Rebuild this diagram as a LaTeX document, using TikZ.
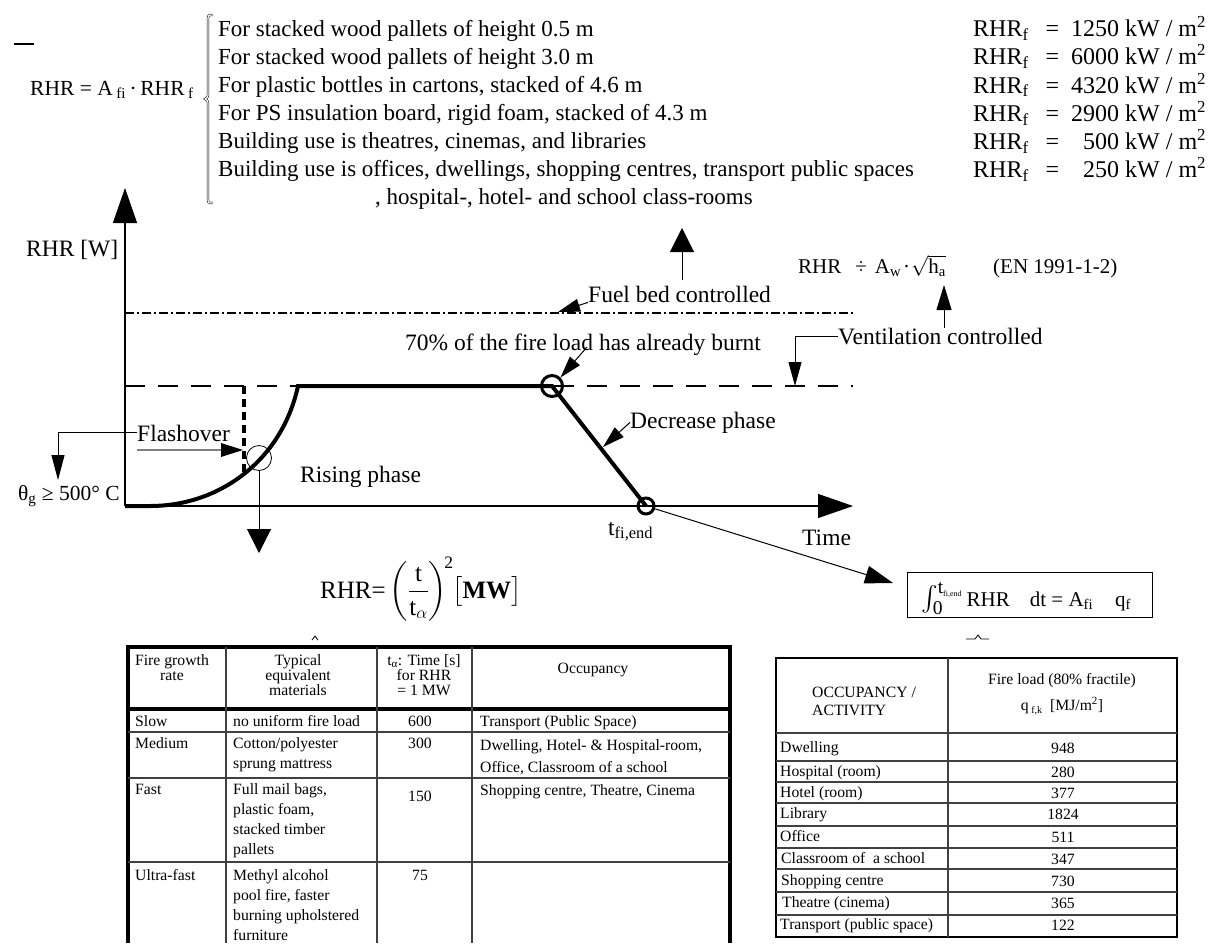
\documentclass[tikz,border=0pt]{standalone}
\usepackage{amsmath}
\usepackage{fontspec}
\setmainfont{Liberation Serif}
\usetikzlibrary{arrows.meta, positioning}

\newcommand{\lines}[2][l]{\begin{tabular}[t]{@{}#1@{}}#2\end{tabular}}

\tikzstyle{lbl} = [inner sep=0pt, anchor=base west, font=\fontsize{23.5}{28}\selectfont]
\tikzstyle{eqn} = [inner sep=0pt, anchor=base west, font=\fontsize{21}{25}\selectfont]
\tikzstyle{cell} = [inner sep=0pt, anchor=base west, font=\fontsize{15.7}{20}\selectfont]
\tikzstyle{numcell} = [inner sep=0pt, anchor=base, font=\fontsize{15.7}{20}\selectfont]
\tikzstyle{headcell} = [inner sep=0pt, anchor=base, font=\fontsize{15.7}{15}\selectfont]
\tikzstyle{arrow} = [line width=1pt, -{Triangle[length=24pt,width=24pt]}]
\tikzstyle{leader} = [line width=1pt, -{Triangle[length=22pt,width=13pt]}]
\tikzstyle{rhrcurve} = [line width=4pt]
\tikzstyle{ring} = [circle, draw, inner sep=0pt]
\tikzstyle{tabframe} = [line width=4pt]
\tikzstyle{tabline} = [line width=1.2pt, black!75]

\begin{document}
\begin{tikzpicture}[x=1pt, y=-1pt]
\useasboundingbox (0,0) rectangle (1209,943);

% heat release rate per floor area
\draw[line width=1.5pt] (14,44) -- (34,44);
\node (areaeq) [inner sep=0pt, anchor=base west, font=\fontsize{21.5}{24}\selectfont] at (30,95) {RHR = A\,\textsubscript{fi}\,·\,RHR\,\textsubscript{f}};
\draw[double, line width=0.5pt, double distance=1.2pt] (213,15) .. controls (208,15) .. (208,21) -- (208,93) .. controls (208,97) .. (205,99) .. controls (208,101) .. (208,105) -- (208,197) .. controls (208,203) .. (213,203);
\node (uselist) [lbl, font=\fontsize{23}{27.9}\selectfont] at (218,36.7) {\lines{For stacked wood pallets of height 0.5 m\\
For stacked wood pallets of height 3.0 m\\
For plastic bottles in cartons, stacked of 4.6 m\\
For PS insulation board, rigid foam, stacked of 4.3 m\\
Building use is theatres, cinemas, and libraries\\
Building use is offices, dwellings, shopping centres, transport public spaces\\
\hspace*{157pt}, hospital-, hotel- and school class-rooms}};
\node (rhrf) [lbl, font=\fontsize{24}{26.8}\selectfont] at (973,36.7) {\lines[l@{\hspace{17pt}}c@{\hspace{12pt}}r@{\hspace{6pt}}l]{RHR\textsubscript{f} & = & 1250 & kW / m\textsuperscript{2}\\
RHR\textsubscript{f} & = & 6000 & kW / m\textsuperscript{2}\\
RHR\textsubscript{f} & = & 4320 & kW / m\textsuperscript{2}\\
RHR\textsubscript{f} & = & 2900 & kW / m\textsuperscript{2}\\
RHR\textsubscript{f} & = & 500 & kW / m\textsuperscript{2}\\
RHR\textsubscript{f} & = & 250 & kW / m\textsuperscript{2}}};

% axes and levels
\coordinate (O) at (125,506);
\coordinate (ytip) at (125,188);
\coordinate (xtip) at (853,506);
\draw[line width=1.2pt, -{Triangle[length=35pt,width=24pt]}] (O) -- (ytip);
\draw[line width=1.2pt, -{Triangle[length=35pt,width=24pt]}] (O) -- (xtip);
\node (ylbl) [lbl] at (26,256) {RHR [W]};
\draw[line width=1.2pt, dash pattern=on 9pt off 3pt on 2pt off 3pt] (125,313) -- (853,313);
\draw[line width=1.2pt, dash pattern=on 20pt off 13pt] (125,386) -- (853,386);

% design fire curve
\draw[rhrcurve] (O) -- (150,506) .. controls (220,506) and (282,460) .. (298,386) -- (552,386) -- (646,506);
\node (burnt) [ring, line width=3pt, minimum size=21pt] at (552,386) {};
\node (tend) [ring, line width=3pt, minimum size=16pt] at (646,506) {};
\node (fring) [ring, line width=0.8pt, minimum size=25pt] at (259,458) {};
\draw[line width=3.5pt, dash pattern=on 8pt off 5pt] (244,386) -- (244,472);

% labels on the curve
\node (flash) [lbl] at (137,441) {Flashover};
\node (thetag) [lbl, font=\fontsize{21.5}{26}\selectfont] at (18,500) {θ\textsubscript{g} ≥ 500° C};
\coordinate (flashtip) at (58,480);
\draw[line width=1pt, -{Triangle[length=25pt,width=13pt]}] (flash.west) -| (flashtip);
\coordinate (grayfrom) at (137,450);
\coordinate (grayhead) at (221,450);
\coordinate (graytip) at (243,450);
\draw[black!50, line width=1.2pt] (grayfrom) -- (grayhead);
\fill (graytip) -- ([yshift=7pt]grayhead) -- ([yshift=-7pt]grayhead) -- cycle;
\coordinate (fdown) at (259,553);
\draw[arrow] (fring.south) -- (fdown);
\node (rising) [lbl] at (300,482) {Rising phase};

\node (fuel) [lbl] at (588,302) {Fuel bed controlled};
\draw[leader] (fuel.south west) -- (558,312);
\coordinate (upfrom) at (682,280);
\coordinate (uptip) at (682,228);
\draw[arrow] (upfrom) -- (uptip);
\node (burnt70) [lbl] at (405,350) {70\% of the fire load has already burnt};
\coordinate (b70) at (587,347);
\draw[leader] (b70) -- (burnt.north east);
\node (decr) [lbl] at (630,428) {Decrease phase};
\draw[leader] (decr.west) -- (603,447);

\node (vent) [lbl] at (838,344) {Ventilation controlled};
\coordinate (venttip) at (795,386);
\draw[line width=1pt, -{Triangle[length=24pt,width=13pt]}] (vent.west) -| (venttip);
\node (ventfor) [eqn] at (798,273) {RHR\hspace{14pt}÷\hspace{8pt}A\textsubscript{w}\hspace{2pt}·\hspace{1pt}$\sqrt{\text{h}_{\text{a}}}$};
\node (enref) [eqn] at (993,273) {(EN 1991-1-2)};
\coordinate (hatip) at (944,285);
\draw[line width=1pt, -{Triangle[length=25pt,width=15pt]}] (vent.north -| hatip) -- (hatip);

\node (tfiend) [lbl] at (608,535) {t\textsubscript{fi,end}};
\node (timelbl) [lbl] at (802,545) {Time};

% total fire load
\node (integ) [draw, line width=1pt, minimum width=245pt, minimum height=45pt] at (1029.5,594.5) {};
\node (integeq) [eqn] at (921,606) {{\fontsize{28}{28}\selectfont$\int_{\text{0}}^{\text{t}_{\text{\fontsize{8}{8}\selectfont fi,end}}}$}\hspace{4pt}RHR\hspace{20pt}dt = A\textsubscript{fi}\hspace{22pt}q\textsubscript{f}};
\coordinate (integtip) at (893,583);
\draw[line width=1pt, -{Triangle[length=28pt,width=18pt]}] (tend) -- (integtip);
\draw[line width=0.8pt] (966,639) -- (975,639) -- (978,635) -- (981,639) -- (989,639);

% growth law
\node (growtheq) [lbl, font=\fontsize{25}{29}\selectfont] at (320,598) {$\text{RHR=}\left(\dfrac{\text{t}}{\text{t}_{\alpha}}\right)^{\!\text{2}}\mkern-4mu\bigl[\textbf{MW}\bigr]$};
\draw[line width=0.8pt] (312,640) -- (315,636) -- (318,640);

% growth rate table
\draw[tabframe] (128,943) -- (128,647) -- (730,647) -- (730,943);
\draw[tabframe] (128,709) -- (730,709);
\draw[tabline] (226,647) -- (226,943);
\draw[tabline] (377,647) -- (377,943);
\draw[tabline] (472,647) -- (472,943);
\draw[tabline] (128,732) -- (730,732);
\draw[tabline] (128,778) -- (730,778);
\draw[tabline] (128,862) -- (730,862);

\node (hrate) [headcell] at (172,665) {\lines[c]{Fire growth\\rate}};
\node (hmat) [headcell] at (298,665) {\lines[c]{Typical\\equivalent\\materials}};
\node (htime) [headcell] at (424,665) {\lines[c]{t\textsubscript{α}: Time [s]\\for RHR\\= 1 MW}};
\node (hocc) [headcell] at (593,673) {Occupancy};

\node (slow) [cell] at (135,726) {Slow};
\node (slowmat) [cell] at (233,726) {no uniform fire load};
\node (slowt) [numcell] at (420,726) {600};
\node (slowocc) [cell] at (480,726) {Transport (Public Space)};

\node (med) [cell] at (135,748) {Medium};
\node (medmat) [cell] at (233,748) {\lines{Cotton/polyester\\sprung mattress}};
\node (medt) [numcell] at (420,748) {300};
\node (medocc) [cell, font=\fontsize{15.7}{22}\selectfont] at (480,750) {\lines{Dwelling, Hotel- \& Hospital-room,\\Office, Classroom of a school}};

\node (fast) [cell] at (135,794) {Fast};
\node (fastmat) [cell] at (233,794) {\lines{Full mail bags,\\plastic foam,\\stacked timber\\pallets}};
\node (fastt) [numcell] at (420,801) {150};
\node (fastocc) [cell] at (480,795) {Shopping centre, Theatre, Cinema};

\node (ufast) [cell] at (135,880) {Ultra-fast};
\node (ufastmat) [cell] at (233,880) {\lines{Methyl alcohol\\pool fire, faster\\burning upholstered\\furniture}};
\node (ufastt) [numcell] at (420,880) {75};

% fire load table
\draw[line width=2pt] (776,658) rectangle (1177,937);
\draw[tabline] (948,658) -- (948,937);
\draw[tabline] (776,733) -- (1177,733);
\draw[tabline] (776,761) -- (1177,761);
\draw[tabline] (776,782) -- (1177,782);
\draw[tabline] (776,803) -- (1177,803);
\draw[tabline] (776,826) -- (1177,826);
\draw[tabline] (776,848) -- (1177,848);
\draw[tabline] (776,869) -- (1177,869);
\draw[tabline] (776,892) -- (1177,892);
\draw[tabline] (776,915) -- (1177,915);

\node (hact) [cell, font=\fontsize{15.7}{18}\selectfont] at (812,697) {\lines{OCCUPANCY /\\ACTIVITY}};
\node (hload) [headcell, font=\fontsize{15.7}{26}\selectfont] at (1062,684) {\lines[c]{Fire load (80\% fractile)\\q\,\raisebox{-3pt}{\fontsize{10}{10}\selectfont f,k}\hspace{8pt}[MJ/m\textsuperscript{2}]}};

\node (dwel) [cell] at (780,752) {Dwelling};
\node (dwelq) [numcell] at (1063,753) {948};
\node (hosp) [cell] at (780,776) {Hospital (room)};
\node (hospq) [numcell] at (1063,777) {280};
\node (hotel) [cell] at (780,797) {Hotel (room)};
\node (hotelq) [numcell] at (1063,798) {377};
\node (libr) [cell] at (780,818) {Library};
\node (librq) [numcell] at (1063,819) {1824};
\node (offi) [cell] at (780,841) {Office};
\node (offiq) [numcell] at (1063,842) {511};
\node (clas) [cell] at (781,863) {Classroom of~ a school};
\node (clasq) [numcell] at (1063,864) {347};
\node (shop) [cell] at (781,885) {Shopping centre};
\node (shopq) [numcell] at (1063,886) {730};
\node (thea) [cell] at (782,907) {Theatre (cinema)};
\node (theaq) [numcell] at (1063,908) {365};
\node (trans) [cell] at (780,929) {Transport (public space)};
\node (transq) [numcell] at (1063,930) {122};
\end{tikzpicture}
\end{document}
